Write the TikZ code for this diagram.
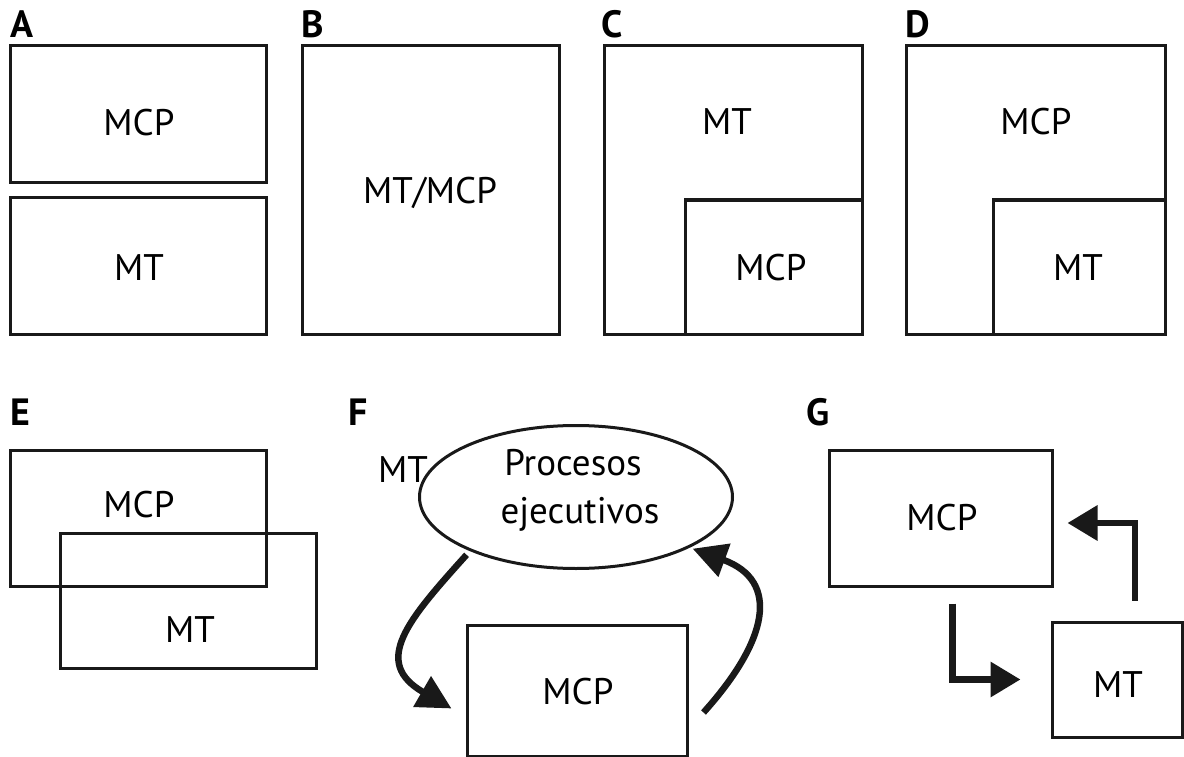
\documentclass[tikz,border=0pt]{standalone}
\usepackage{fontspec}
\setmainfont{PT Sans}
\usepackage{tikz}
\usetikzlibrary{arrows.meta, shapes.geometric}

\begin{document}
\begin{tikzpicture}[
    x=1pt,
    y=-1pt,
    font=\fontsize{37}{46}\selectfont,
    box/.style={draw=black!90, line width=3pt, inner sep=0pt},
    txt/.style={inner sep=0pt},
    lbl/.style={font=\fontsize{38}{40}\selectfont\bfseries, anchor=base west, inner sep=0pt},
    curvearrow/.style={-{Triangle[length=34pt, width=34pt]}, line width=6.5pt, draw=black!90},
    stepline/.style={-{Triangle[length=30pt, width=34pt]}, line width=6.5pt, draw=black!90, line join=miter}
]
\useasboundingbox (0,0) rectangle (1184,757);
% top row
\node[lbl] (labA) at (10,38) {A};
\node[lbl] (labB) at (301,38) {B};
\node[lbl] (labC) at (601,38) {C};
\node[lbl] (labD) at (905,38) {D};
% A
\node[box, minimum width=256pt, minimum height=137pt] (amcp) at (138,114.5) {};
\node[box, minimum width=256pt, minimum height=136pt] (amt) at (138,266) {};
\node[txt] (amcptext) at (139,123) {MCP};
\node[txt] (amttext) at (139,268) {MT};
% B
\node[box, minimum width=257pt, minimum height=288pt] (bboth) at (430.5,190) {};
\node[txt] (bbothtext) at (430,193) {MT/MCP};
% C
\node[box, minimum width=258pt, minimum height=288pt] (cmt) at (733,190) {};
\node[box, minimum width=177pt, minimum height=134pt] (cmcp) at (773.5,267) {};
\node[txt] (cmttext) at (727,122) {MT};
\node[txt] (cmcptext) at (771,268) {MCP};
% D
\node[box, minimum width=259pt, minimum height=288pt] (dmcp) at (1035.5,190) {};
\node[box, minimum width=172pt, minimum height=134pt] (dmt) at (1079,267) {};
\node[txt] (dmcptext) at (1036,122) {MCP};
\node[txt] (dmttext) at (1078,268) {MT};
% bottom row
\node[lbl] (labE) at (10,425) {E};
\node[lbl] (labF) at (348,425) {F};
\node[lbl] (labG) at (806,425) {G};
% E
\node[box, minimum width=256pt, minimum height=136pt] (emcp) at (138,518) {};
\node[box, minimum width=256pt, minimum height=135pt] (emt) at (188,600.5) {};
\node[txt] (emcptext) at (139,505) {MCP};
\node[txt] (emttext) at (190,630) {MT};
% F
\node[box, ellipse, minimum width=313pt, minimum height=143pt] (proc) at (576,497) {};
\node[txt, anchor=base] (proctop) at (573,475) {Procesos};
\node[txt, anchor=base] (procbot) at (580,523) {ejecutivos};
\node[txt] (fmttext) at (403,470) {MT};
\node[box, minimum width=220pt, minimum height=131pt] (fmcp) at (577,690.5) {};
\node[txt] (fmcptext) at (578,692) {MCP};
\draw[curvearrow, shorten <=5pt] (proc.207) to[out=228, in=150, looseness=1.5] ([shift={(-14,18)}]fmcp.west);
\draw[curvearrow, shorten >=3pt] ([shift={(15,22)}]fmcp.east) to[out=48, in=340, looseness=1.5] (proc.336);
% G
\node[box, minimum width=223pt, minimum height=136pt] (gmcp) at (940.5,518) {};
\node[box, minimum width=130pt, minimum height=115pt] (gmt) at (1117,679.5) {};
\node[txt] (gmcptext) at (942,518) {MCP};
\node[txt] (gmttext) at (1118,685) {MT};
\draw[stepline] ([shift={(12,16)}]gmcp.south) |- ([xshift=-30pt]gmt.west);
\draw[stepline] ([shift={(18,-20)}]gmt.north) |- ([shift={(14,5)}]gmcp.east);
\end{tikzpicture}
\end{document}
